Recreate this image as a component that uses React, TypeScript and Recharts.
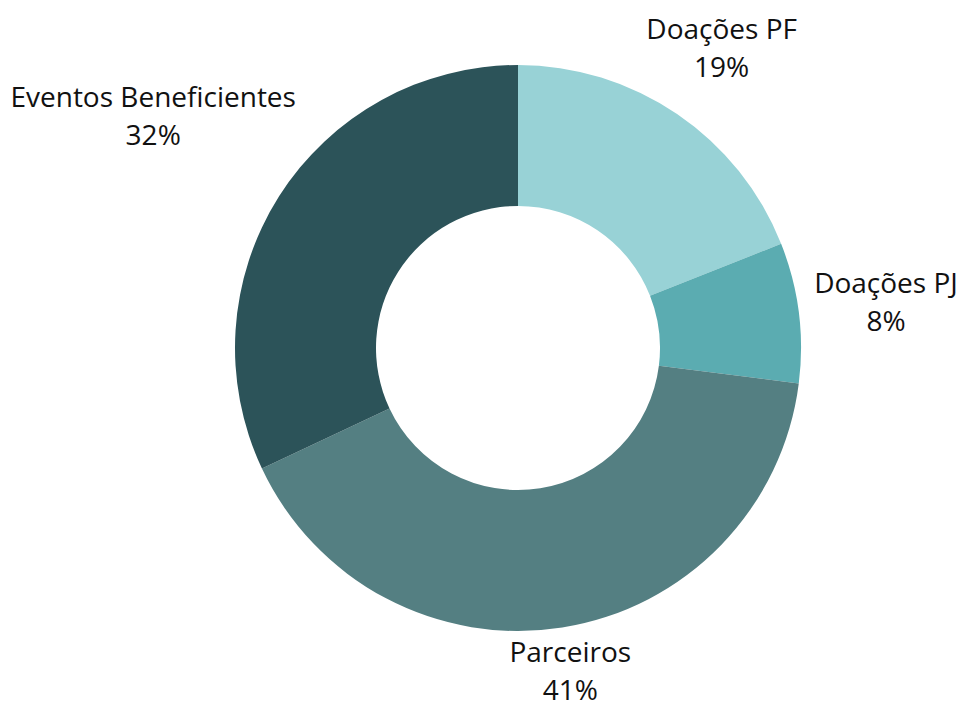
import React from "react";
import { PieChart, Pie, Cell } from "recharts";

const categories = ["Doações PF", "Doações PJ", "Parceiros", "Eventos Beneficientes"];
const values = [19, 8, 41, 32];
const colors = ["#98D2D6", "#5BACB1", "#547F82", "#2C5359"];

const data = categories.map((name, i) => ({ name, value: values[i] }));

const W = 963;
const H = 702;
const FONT_SIZE = 28;
const LINE = 38;
const CAP = FONT_SIZE * 0.714;
const FONT = `${FONT_SIZE}px "Open Sans"`;
const RADIAN = Math.PI / 180;

let ctx: CanvasRenderingContext2D | null = null;
function measure(t: string): number {
  if (!ctx && typeof document !== "undefined") {
    ctx = document.createElement("canvas").getContext("2d");
  }
  if (ctx) {
    ctx.font = FONT;
    return ctx.measureText(t).width;
  }
  return t.length * FONT_SIZE * 0.5;
}

const renderLabel = (props: any) => {
  const { cx, cy, midAngle, outerRadius, percent, name } = props;
  const pct = `${Math.round(percent * 100)}%`;
  const w = Math.max(measure(name), measure(pct));
  const a = w / 2;
  const b = (LINE + CAP) / 2;
  const c = Math.cos(-midAngle * RADIAN);
  const s = Math.sin(-midAngle * RADIAN);
  const R = outerRadius + 13 + a * Math.abs(c) + b * Math.abs(s);
  const x = cx + R * c;
  let y = cy + R * s;
  y = Math.min(y, H - 2 - b);
  y = Math.max(y, 2 + b);
  const base1 = y - LINE / 2 + CAP / 2;
  return (
    <text
      x={x}
      y={base1}
      textAnchor="middle"
      fill="#111111"
      style={{ fontFamily: '"Open Sans", sans-serif', fontSize: FONT_SIZE }}
    >
      <tspan x={x} y={base1}>{name}</tspan>
      <tspan x={x} y={base1 + LINE}>{pct}</tspan>
    </text>
  );
};

export default function App() {
  return (
    <div style={{ position: "absolute", left: 0, top: 0, width: W, height: H, background: "#ffffff" }}>
      <PieChart width={W} height={H} margin={{ top: 0, right: 0, bottom: 0, left: 0 }} style={{ outline: "none" }}>
        <Pie
          data={data}
          dataKey="value"
          nameKey="name"
          cx={518}
          cy={348}
          innerRadius={142}
          outerRadius={283}
          startAngle={90}
          endAngle={-270}
          stroke="none"
          label={renderLabel}
          labelLine={false}
          isAnimationActive={false}
        >
          {data.map((d, i) => (
            <Cell key={d.name} fill={colors[i]} />
          ))}
        </Pie>
      </PieChart>
    </div>
  );
}
